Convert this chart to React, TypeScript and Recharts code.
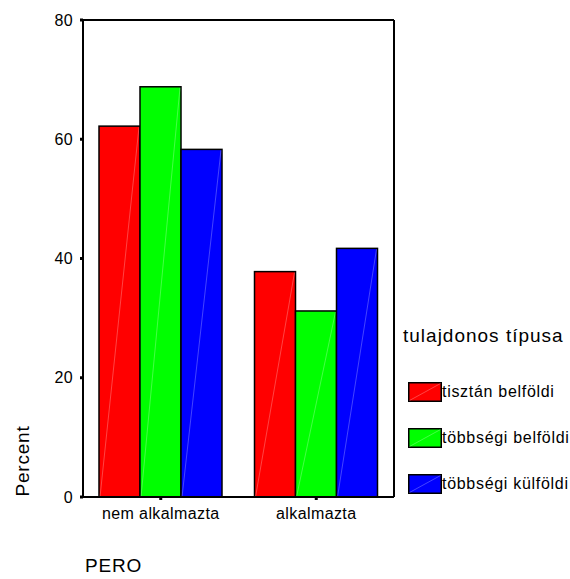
import { BarChart, Bar, XAxis, YAxis, ReferenceLine } from 'recharts'

const categories = ['nem alkalmazta', 'alkalmazta']
const tisztanBelfoldi = [62.2, 37.8]
const tobbsegiBelfoldi = [68.8, 31.2]
const tobbsegiKulfoldi = [58.3, 41.7]
const yTicks = [0, 20, 40, 60, 80]

const SERIES = [
  { key: 'tb', name: 'tisztán belföldi', color: '#FF0000', values: tisztanBelfoldi },
  { key: 'gb', name: 'többségi belföldi', color: '#00FF00', values: tobbsegiBelfoldi },
  { key: 'gk', name: 'többségi külföldi', color: '#0000FF', values: tobbsegiKulfoldi },
]

const data = categories.map((cat, i) => {
  const row: Record<string, string | number> = { cat }
  SERIES.forEach((s) => (row[s.key] = s.values[i]))
  return row
})

const FONT = '"Liberation Sans", Arial, sans-serif'

function StripedBar(props: any) {
  const { x, y, width, height, fill } = props
  if (!height || height <= 0) return null
  return (
    <g>
      <rect x={x} y={y} width={width} height={height} fill={fill} stroke="#000" strokeWidth={1.5} />
      <line x1={x + 1} y1={y + height} x2={x + width - 1} y2={y + 1} stroke="#fff" strokeOpacity={0.45} strokeWidth={0.6} />
    </g>
  )
}

export default function App() {
  return (
    <div style={{ position: 'absolute', left: 0, top: 0, width: 570, height: 579, background: '#fff', fontFamily: FONT }}>
      <BarChart
        width={570}
        height={579}
        data={data}
        margin={{ top: 20, right: 166, left: 33, bottom: 52 }}
        barCategoryGap={16}
        barGap={0}
      >
        <XAxis
          dataKey="cat"
          height={30}
          axisLine={{ stroke: '#000', strokeWidth: 2 }}
          tickLine={{ stroke: '#000', strokeWidth: 3 }}
          tickSize={3}
          tickMargin={8}
          tick={{ fill: '#000', fontSize: 16, fontFamily: FONT, letterSpacing: 0.4 }}
          label={{
            content: () => (
              <text x={85} y={572} fontSize={19} fontFamily={FONT} letterSpacing={0.8} fill="#000">
                PERO
              </text>
            ),
          }}
        />
        <YAxis
          yAxisId="l"
          width={50}
          domain={[0, 80]}
          ticks={yTicks}
          axisLine={{ stroke: '#000', strokeWidth: 2 }}
          tickLine={{ stroke: '#000', strokeWidth: 3 }}
          tickSize={3}
          tickMargin={7}
          tick={{ fill: '#000', fontSize: 16, fontFamily: FONT, letterSpacing: 0.4 }}
          label={{
            content: () => (
              <text
                x={29}
                y={461}
                fontSize={19}
                fontFamily={FONT}
                letterSpacing={0.8}
                fill="#000"
                textAnchor="middle"
                transform="rotate(-90 29 461)"
              >
                Percent
              </text>
            ),
          }}
        />
        <YAxis
          yAxisId="r"
          orientation="right"
          width={10}
          domain={[0, 80]}
          tick={false}
          tickLine={false}
          axisLine={{ stroke: '#000', strokeWidth: 2 }}
        />
        <ReferenceLine yAxisId="l" y={80} stroke="#000" strokeWidth={2} />
        {SERIES.map((s) => (
          <Bar
            key={s.key}
            yAxisId="l"
            dataKey={s.key}
            name={s.name}
            fill={s.color}
            shape={<StripedBar />}
            isAnimationActive={false}
          />
        ))}
      </BarChart>

      <div style={{ position: 'absolute', left: 403, top: 325, fontSize: 19, letterSpacing: 1, color: '#000', whiteSpace: 'nowrap', lineHeight: '22px' }}>
        tulajdonos típusa
      </div>
      {SERIES.map((s, i) => (
        <div
          key={s.key}
          style={{ position: 'absolute', left: 408, top: 382 + i * 46, height: 20, display: 'flex', alignItems: 'center', whiteSpace: 'nowrap' }}
        >
          <svg width={34} height={20} style={{ display: 'block' }}>
            <rect x={0.75} y={0.75} width={32.5} height={18.5} fill={s.color} stroke="#000" strokeWidth={1.5} />
            <line x1={1.5} y1={18.5} x2={32.5} y2={1.5} stroke="#fff" strokeOpacity={0.45} strokeWidth={0.6} />
          </svg>
          <span style={{ fontSize: 16, letterSpacing: 0.7, color: '#000' }}>{s.name}</span>
        </div>
      ))}
    </div>
  )
}
